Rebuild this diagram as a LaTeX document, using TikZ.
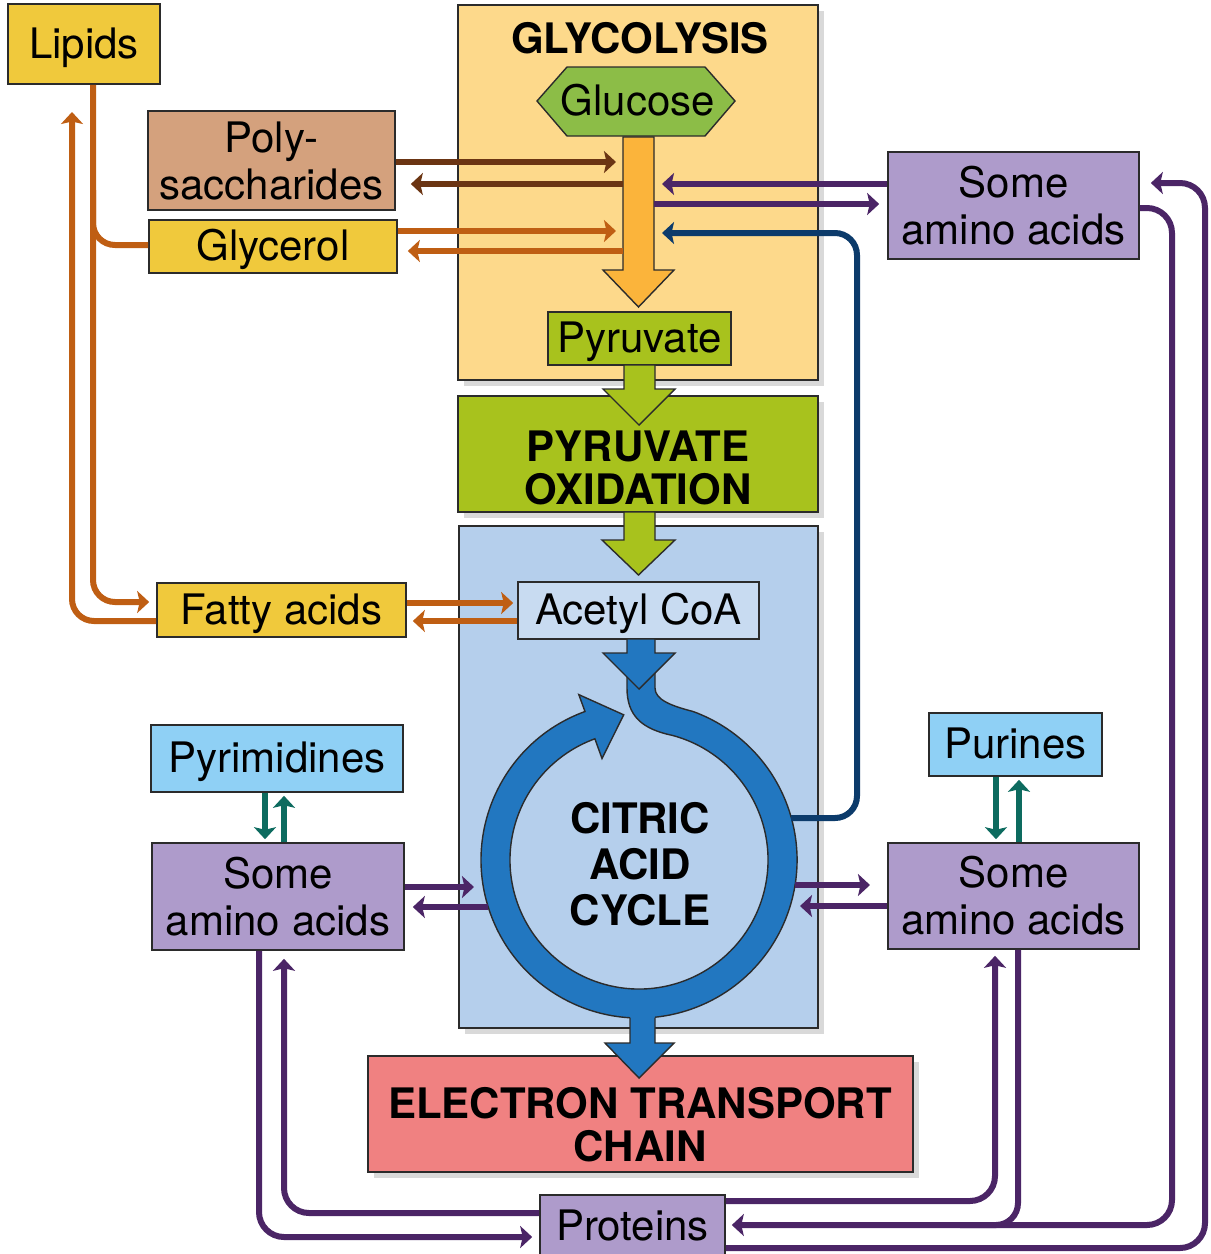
\documentclass[tikz,border=0pt]{standalone}
\usepackage{fontspec}
\setmainfont{TeX Gyre Heros}
\usetikzlibrary{arrows.meta,shadows,calc}
\definecolor{edge}{HTML}{2B2B2B}
\definecolor{ylw}{HTML}{F0C93C}
\definecolor{polytan}{HTML}{D4A17D}
\definecolor{glybg}{HTML}{FDD98B}
\definecolor{glugreen}{HTML}{8CBD47}
\definecolor{orarrow}{HTML}{FBB43B}
\definecolor{pygreen}{HTML}{A8C21D}
\definecolor{citbg}{HTML}{B5CFEC}
\definecolor{acbg}{HTML}{C8DBF1}
\definecolor{ringblue}{HTML}{2277C0}
\definecolor{etcred}{HTML}{F08181}
\definecolor{aminopurple}{HTML}{AE9BCB}
\definecolor{nucblue}{HTML}{8FD0F5}
\definecolor{brownline}{HTML}{6B3513}
\definecolor{orline}{HTML}{BF5E13}
\definecolor{purline}{HTML}{4B2566}
\definecolor{navyline}{HTML}{0C3B6B}
\definecolor{tealline}{HTML}{0D6B5F}
\tikzset{tipA/.tip={Stealth[length=12pt,width=22pt,inset=2.5pt]}}
\begin{document}
\begin{tikzpicture}[x=1pt,y=-1pt,
  box/.style={draw=edge, line width=1.6pt, inner sep=0pt, align=center, font=\fontsize{42}{47}\selectfont},
  one/.style={text height=29pt, text depth=1pt},
  panel/.style={draw=edge, line width=1.6pt, inner sep=0pt, drop shadow={opacity=0.3, shadow xshift=6pt, shadow yshift=-6pt}},
  title/.style={font=\fontsize{42}{43}\selectfont\bfseries, align=center, inner sep=0pt},
  fat/.style={draw=edge, line width=1.4pt},
  link/.style={line width=6pt, -tipA},
  plainlink/.style={line width=6pt},
]
\clip (0,0) rectangle (1211,1254);

% ---------- panels ----------
\node[panel, fill=glybg, minimum width=360pt, minimum height=375pt] (glyco) at (638,192.5) {};
\node[title] (glytitle) at (640,38) {GLYCOLYSIS};
\node[panel, fill=pygreen, minimum width=360pt, minimum height=116pt] (pyox) at (638,454) {};
\node[title] (pyoxtext) at (638,468) {PYRUVATE\\OXIDATION};
\node[panel, fill=citbg, minimum width=359pt, minimum height=502pt] (citbox) at (638.5,777) {};
\node[panel, fill=etcred, minimum width=545pt, minimum height=116pt] (etc) at (640.5,1114) {};
\node[title] (etctext) at (640,1125) {ELECTRON TRANSPORT\\CHAIN};

% ---------- glycolysis ----------
\filldraw[fat, fill=glugreen] (537,101) -- (567,67) -- (705,67) -- (735,101) -- (705,136) -- (567,136) -- cycle;
\node[box, one, draw=none] (glucose) at (638,101) {Glucose};
\filldraw[fat, fill=orarrow] (623,137) -- (623,270) -- (603,270) -- (638.5,307) -- (674,270) -- (654,270) -- (654,137) -- cycle;
\coordinate (shaftL) at (623,200);
\coordinate (shaftR) at (654,200);
\node[box, one, fill=pygreen, minimum width=183pt, minimum height=53pt] (pyruvate) at (639.5,338.5) {Pyruvate};
\filldraw[fat, fill=pygreen] (624,365) -- (624,389) -- (603,389) -- (639,425) -- (675,389) -- (655,389) -- (655,365) -- cycle;
\filldraw[fat, fill=pygreen] (624,512) -- (624,540) -- (602,540) -- (638.5,575) -- (675,540) -- (655,540) -- (655,512) -- cycle;

% ---------- citric acid cycle ----------
\node[box, one, fill=acbg, minimum width=241pt, minimum height=57pt] (acetyl) at (638.5,610.5) {Acetyl CoA};
\coordinate (ringC) at (639,860);
\filldraw[fat, fill=ringblue]
  (627,655) -- (627,688) .. controls (627,716) and (642,729) .. (672.4,735.4)
  arc[start angle=-75, end angle=250, radius=129]
  -- (602,758.5) -- (623.7,714.8) -- (578.8,694.6) -- (585,711.5)
  arc[start angle=250, end angle=-70, radius=158]
  .. controls (672,706) and (655,700) .. (655,688) -- (655,655) -- cycle;
\filldraw[fat, fill=ringblue] (627,639) -- (627,653) -- (603,653) -- (639,689) -- (675,653) -- (655,653) -- (655,639) -- cycle;
\fill[ringblue] (630,1000) -- (630,1043) -- (605,1043) -- (639,1078) -- (674,1043) -- (655,1043) -- (655,1000) -- cycle;
\draw[fat] (630,1017.5) -- (630,1043) -- (605,1043) -- (639,1078) -- (674,1043) -- (655,1043) -- (655,1017.5);
\node[title, font=\fontsize{42}{46}\selectfont\bfseries] (cyctext) at (640,864) {CITRIC\\ACID\\CYCLE};

% ---------- side boxes ----------
\node[box, one, fill=ylw, minimum width=152pt, minimum height=80pt] (lipids) at (84,44) {Lipids};
\node[box, fill=polytan, minimum width=247pt, minimum height=99pt] (poly) at (271.5,160.5) {Poly-\\saccharides};
\node[box, one, fill=ylw, minimum width=248pt, minimum height=53pt] (glycerol) at (273,246.5) {Glycerol};
\node[box, one, fill=ylw, minimum width=249pt, minimum height=54pt] (fatty) at (281.5,610) {Fatty acids};
\node[box, fill=aminopurple, minimum width=251pt, minimum height=107pt] (aminoTR) at (1013.5,205.5) {Some\\amino acids};
\node[box, one, fill=nucblue, minimum width=252pt, minimum height=67pt] (pyrimidines) at (277,758.5) {Pyrimidines};
\node[box, fill=aminopurple, minimum width=252pt, minimum height=107pt] (aminoBL) at (278,896.5) {Some\\amino acids};
\node[box, one, fill=nucblue, minimum width=173pt, minimum height=63pt] (purines) at (1015.5,744.5) {Purines};
\node[box, fill=aminopurple, minimum width=251pt, minimum height=106pt] (aminoBR) at (1013.5,896) {Some\\amino acids};
\node[box, one, fill=aminopurple, minimum width=185pt, minimum height=62pt] (proteins) at (632.5,1226) {Proteins};

% ---------- connectors: top left ----------
\draw[brownline, link, shorten >=7pt] (poly.east |- 0,162) -- (shaftL |- 0,162);
\draw[brownline, link, shorten >=15pt] (shaftL |- 0,184) -- (poly.east |- 0,184);
\draw[orline, link, shorten >=7pt] (glycerol.east |- 0,231) -- (shaftL |- 0,231);
\draw[orline, link, shorten >=10pt] (shaftL |- 0,251) -- (glycerol.east |- 0,251);
\draw[orline, link, rounded corners=22, shorten >=7pt] (lipids.south -| 93,0) |- (fatty.west |- 0,602);
\draw[orline, plainlink, rounded corners=22] (glycerol.west |- 0,245) -| (93,190);
\draw[orline, link, rounded corners=22] (fatty.west |- 0,621) -| (72,112);
\draw[orline, link, shorten >=4pt] (fatty.east |- 0,603) -- (acetyl.west |- 0,603);
\draw[orline, link, shorten >=6pt] (acetyl.west |- 0,621) -- (fatty.east |- 0,621);

% ---------- connectors: right top ----------
\draw[purline, link, shorten >=8pt] (aminoTR.west |- 0,184) -- (shaftR |- 0,184);
\draw[purline, link, shorten >=8pt] (shaftR |- 0,204) -- (aminoTR.west |- 0,204);
\draw[navyline, link, rounded corners=22, shorten >=8pt] (791,818) -| (857,233) -- (shaftR |- 0,233);

% ---------- connectors: cycle ----------
\draw[purline, link] (aminoBL.east |- 0,887) -- (474,887);
\draw[purline, link, shorten >=8pt] (488,907) -- (aminoBL.east |- 0,907);
\draw[purline, link] (795,885) -- (870,885);
\draw[purline, link] (aminoBR.west |- 0,906) -- (800,906);

% ---------- nucleotides ----------
\draw[tealline, link, shorten >=3pt] (pyrimidines.south -| 265,0) -- (aminoBL.north -| 265,0);
\draw[tealline, link, shorten >=3pt] (aminoBL.north -| 284,0) -- (pyrimidines.south -| 284,0);
\draw[tealline, link, shorten >=3pt] (purines.south -| 996,0) -- (aminoBR.north -| 996,0);
\draw[tealline, link, shorten >=3pt] (aminoBR.north -| 1019,0) -- (purines.south -| 1019,0);

% ---------- proteins ----------
\draw[purline, link, rounded corners=25, shorten >=6pt] (aminoTR.east |- 0,208) -| (1172,1225) -- (proteins.east |- 0,1225);
\draw[purline, plainlink, rounded corners=22] (aminoBR.south -| 1018,0) |- (960,1225);
\draw[purline, link, rounded corners=25, shorten >=11pt] (proteins.east |- 0,1248) -| (1205,183) -- (aminoTR.east |- 0,183);
\draw[purline, link, rounded corners=25, shorten >=6pt] (proteins.east |- 0,1201) -| (aminoBR.south -| 995,0);
\draw[purline, link, rounded corners=25, shorten >=7pt] (aminoBL.south -| 259,0) |- (proteins.west |- 0,1237);
\draw[purline, link, rounded corners=25, shorten >=8pt] (proteins.west |- 0,1213) -| (aminoBL.south -| 284,0);
\end{tikzpicture}
\end{document}
